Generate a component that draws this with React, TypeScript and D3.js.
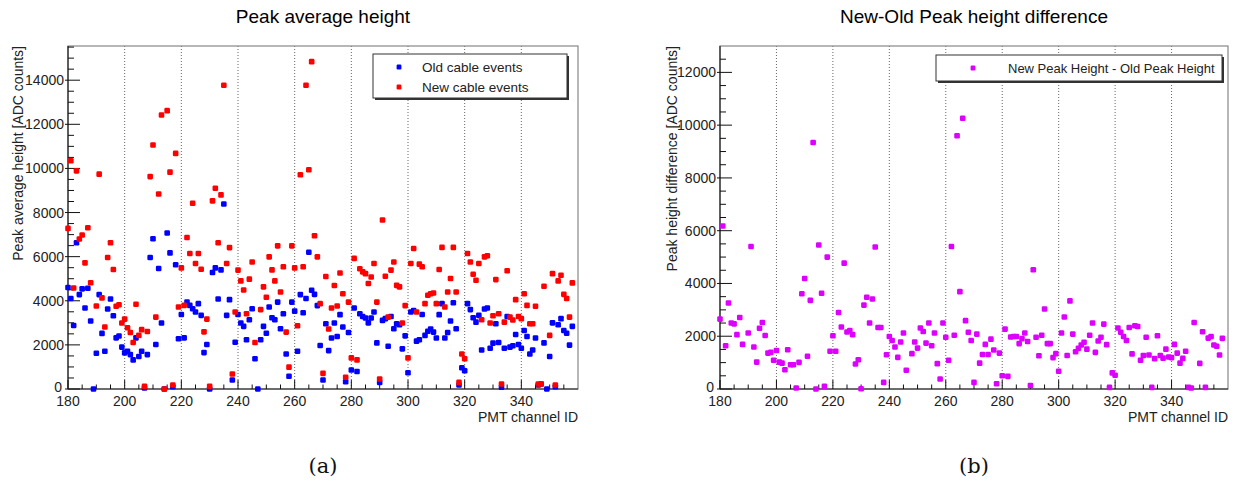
import React, { useEffect, useRef } from "react";
import * as d3 from "d3";

// PMT channel IDs (x) and peak heights in ADC counts
const channels = [
  180, 181, 182, 183, 184, 185, 186, 187, 188, 189, 190, 191, 192, 193, 194, 195, 196, 197, 198, 199,
  200, 201, 202, 203, 204, 205, 206, 207, 208, 209, 210, 211, 212, 213, 214, 215, 216, 217, 218, 219,
  220, 221, 222, 223, 224, 225, 226, 227, 228, 229, 230, 231, 232, 233, 234, 235, 236, 237, 238, 239,
  240, 241, 242, 243, 244, 245, 246, 247, 248, 249, 250, 251, 252, 253, 254, 255, 256, 257, 258, 259,
  260, 261, 262, 263, 264, 265, 266, 267, 268, 269, 270, 271, 272, 273, 274, 275, 276, 277, 278, 279,
  280, 281, 282, 283, 284, 285, 286, 287, 288, 289, 290, 291, 292, 293, 294, 295, 296, 297, 298, 299,
  300, 301, 302, 303, 304, 305, 306, 307, 308, 309, 310, 311, 312, 313, 314, 315, 316, 317, 318, 319,
  320, 321, 322, 323, 324, 325, 326, 327, 328, 329, 330, 331, 332, 333, 334, 335, 336, 337, 338, 339,
  340, 341, 342, 343, 344, 345, 346, 347, 348, 349, 350, 351, 352, 353, 354, 355, 356, 357, 358,
];

const oldCable = [
  4600, 4100, 2880, 6630, 4280, 4540, 3670, 4570, 3080, 0, 1620, 4280, 2520, 1710, 3630, 4080, 3320, 2320, 2400, 1900,
  1640, 1710, 1560, 1320, 2320, 1470, 1710, 45, 1560, 5960, 6810, 2020, 5460, 2990, 0, 7070, 6170, 100, 5630, 2280,
  3380, 2320, 3940, 3790, 3640, 3490, 3870, 3340, 1650, 2020, 0, 5280, 5490, 4080, 5400, 8390, 3340, 4050, 410, 2120,
  3380, 2990, 2840, 2230, 3140, 3640, 1370, 0, 2230, 2840, 2530, 3720, 3230, 3140, 3940, 2730, 3410, 1590, 580, 3940,
  3530, 1710, 4280, 3460, 4100, 6200, 4480, 4290, 3780, 1970, 410, 2960, 1740, 2310, 2990, 2380, 3370, 2810, 330, 2560,
  860, 3670, 790, 3410, 3290, 3220, 3000, 3220, 3490, 2090, 300, 3110, 3190, 1940, 3290, 2730, 2960, 2910, 1820, 2410,
  740, 3490, 3560, 2170, 2230, 3380, 2430, 2620, 2720, 2580, 2310, 3370, 3870, 2310, 2560, 3080, 3910, 2730, 180, 960,
  830, 3870, 3600, 3230, 3030, 3340, 1770, 3630, 3670, 1850, 2080, 2960, 2110, 80, 1850, 3290, 1900, 1960, 2470, 2020,
  1850, 2650, 2380, 1590, 1770, 2310, 180, 230, 2090, 0, 1470, 3000, 100, 2910, 3190, 2650, 2530, 1990, 2840,
];

const newCable = [
  7280, 10350, 4580, 9890, 6800, 6980, 5720, 7310, 4820, null, 3760, 9740, 4130, 2810, 5960, 6630, 5420, 3750, 3820, 2990,
  3170, 2780, 2560, 2110, 3840, 2430, 2690, 120, 2610, 9630, 11060, 3260, 8840, 12420, 0, 12620, 9830, 180, 10680, 3720,
  5490, 3790, 6870, 6140, 8420, 5690, 6140, 5430, 2590, 3170, 120, 8530, 9100, 6630, 8800, 13770, 5690, 6410, 680, 3490,
  5390, 4900, 4490, 3410, 4980, 5760, 2110, null, 3600, 4630, 4160, 5990, 5400, 4900, 6490, 4400, 5540, 2580, 990, 6490,
  5490, 2870, 9710, 5540, 13770, 9940, 14840, 6950, 5990, 3870, 710, 5100, 2720, 3670, 4690, 3760, 5260, 4320, 530, 3940,
  1410, 5920, 1320, 5450, 5310, 5230, 4780, 5080, 5690, 3940, 450, 7660, 5110, 3260, 5390, 5760, 4700, 4630, 2990, 3780,
  1410, 5690, 6370, 3490, 5660, 5540, 3870, 4250, 4320, 4350, 3870, 5420, 6420, 3720, 4400, 5010, 6420, 4400, 300, 1590,
  1370, 6140, 5760, 5200, 4930, 5690, 3140, 5990, 6040, 2990, 3320, 4960, 3410, 230, 3030, 5360, 3260, 3130, 4050, 3290,
  3190, 4320, 3790, 2960, 2960, 3750, 230, 230, 4660, null, 2430, 5230, 180, 4900, 5160, 4290, 4100, 3260, 4810,
];

const peakDiff = [
  2650, 6180, 1640, 3260, 2500, 2470, 2060, 2710, 1690, null, 2120, 5400, 1590, 1020, 2300, 2520, 2030, 1360, 1390, 1090,
  1460, 1020, 980, 730, 1490, 920, 920, 40, 1010, 3610, 4190, 1240, 3360, 9340, 0, 5460, 3630, 100, 5000, 1430,
  2020, 1430, 2900, 2350, 4770, 2160, 2220, 2060, 950, 1110, 10, 3180, 3480, 2500, 3410, 5380, 2330, 2330, 250, 1300,
  1990, 1840, 1590, 1200, 1780, 2120, 710, null, 1340, 1780, 1550, 2310, 2180, 1740, 2500, 1640, 2120, 960, 380, 2500,
  1960, 1090, 5400, 2040, 9600, 3690, 10260, 2590, 2150, 1840, 250, 2080, 980, 1310, 1690, 1310, 1890, 1480, 200, 1360,
  500, 2270, 480, 1970, 1990, 1990, 1720, 1910, 2120, 1800, 130, 4520, 1960, 1260, 2040, 3030, 1720, 1720, 1190, 1340,
  670, 2120, 2730, 1270, 3340, 2080, 1410, 1540, 1670, 1770, 1510, 2040, 2500, 1390, 1820, 1960, 2460, 1680, 60, 610,
  520, 2310, 2150, 1990, 1840, 2330, 1330, 2400, 2370, 1090, 1270, 1960, 1290, 60, 1150, 2020, 1270, 1170, 1510, 1210,
  1190, 1690, 1360, 980, 1160, 1430, 60, 40, 2520, null, 970, 2170, 60, 1930, 1990, 1670, 1620, 1290, 1920,
];

const xTickLabels = [180, 200, 220, 240, 260, 280, 300, 320, 340];
const yTicksLeft = [0, 2000, 4000, 6000, 8000, 10000, 12000, 14000];
const yTicksRight = [0, 2000, 4000, 6000, 8000, 10000, 12000];

const FONT = "'Liberation Sans', Arial, Helvetica, sans-serif";

function drawPanel(svg, p) {
  const x = d3.scaleLinear().domain([180, 360]).range([p.left, p.right]);
  const y = d3.scaleLinear().domain([0, p.yMax]).range([p.bottom, p.top]);
  const g = svg.append("g");

  // title
  g.append("text").attr("x", (p.left + p.right) / 2).attr("y", 23)
    .attr("text-anchor", "middle").attr("font-family", FONT).attr("font-size", 19)
    .text(p.title);

  // dotted vertical grid at major ticks
  g.selectAll(".grid").data(xTickLabels.slice(1)).join("line")
    .attr("x1", d => x(d)).attr("x2", d => x(d))
    .attr("y1", p.top).attr("y2", p.bottom)
    .attr("stroke", "#555").attr("stroke-width", 0.9).attr("stroke-dasharray", "1,2");

  // frame
  g.append("rect").attr("x", p.left).attr("y", p.top)
    .attr("width", p.right - p.left).attr("height", p.bottom - p.top)
    .attr("fill", "none").attr("stroke", "#888").attr("stroke-width", 1.2);
  g.append("line").attr("x1", p.left).attr("x2", p.left).attr("y1", p.top).attr("y2", p.bottom)
    .attr("stroke", "#222").attr("stroke-width", 1.2);
  g.append("line").attr("x1", p.left).attr("x2", p.right).attr("y1", p.bottom).attr("y2", p.bottom)
    .attr("stroke", "#222").attr("stroke-width", 1.2);

  // x ticks
  const xMinor = d3.range(180, 360, 5);
  g.selectAll(".xt").data(xMinor).join("line")
    .attr("x1", d => x(d)).attr("x2", d => x(d))
    .attr("y1", p.bottom).attr("y2", d => p.bottom - (d % 20 === 0 ? 9 : 4.5))
    .attr("stroke", "#111").attr("stroke-width", 1);
  g.selectAll(".xl").data(xTickLabels).join("text")
    .attr("x", d => x(d)).attr("y", p.bottom + 17)
    .attr("text-anchor", "middle").attr("font-family", FONT).attr("font-size", 14).attr("fill", "#222")
    .text(d => d);
  g.append("text").attr("x", p.right).attr("y", p.bottom + 33)
    .attr("text-anchor", "end").attr("font-family", FONT).attr("font-size", 14).attr("fill", "#222")
    .text("PMT channel ID");

  // y ticks
  const yMinor = d3.range(0, p.yMax, 500);
  g.selectAll(".yt").data(yMinor).join("line")
    .attr("y1", d => y(d)).attr("y2", d => y(d))
    .attr("x1", d => (d % 2000 === 0 ? p.left - 3 : p.left))
    .attr("x2", d => p.left + (d % 2000 === 0 ? 12 : 6))
    .attr("stroke", "#111").attr("stroke-width", 1);
  g.selectAll(".yl").data(p.yTicks).join("text")
    .attr("x", d => (d === 0 ? p.left - 6 : p.left - 4))
    .attr("y", d => (d === 0 ? y(d) + 3 : y(d) + 5))
    .attr("text-anchor", "end").attr("font-family", FONT).attr("font-size", 14).attr("fill", "#222")
    .text(d => d);
  g.append("text").attr("transform", `translate(${p.yTitleX},${p.top}) rotate(-90)`)
    .attr("text-anchor", "end").attr("font-family", FONT).attr("font-size", 14).attr("fill", "#222")
    .text(p.yTitle);

  // points
  p.series.forEach(s => {
    const pts = channels.map((c, i) => [c, s.values[i]]).filter(d => d[1] !== null);
    g.selectAll(null).data(pts).join("rect")
      .attr("x", d => x(d[0]) - 2.8).attr("y", d => y(d[1]) - 2.8)
      .attr("width", 5.6).attr("height", 5.6).attr("rx", 1.3)
      .attr("fill", s.color);
  });

  // legend
  const L = p.legend;
  g.append("rect").attr("x", L.x + 2).attr("y", L.y + 2).attr("width", L.w).attr("height", L.h)
    .attr("fill", "#333");
  g.append("rect").attr("x", L.x).attr("y", L.y).attr("width", L.w).attr("height", L.h)
    .attr("fill", "#fff").attr("stroke", "#333").attr("stroke-width", 1);
  p.series.forEach((s, i) => {
    const cy = L.y + L.rowY[i];
    g.append("rect").attr("x", L.markX - 2.4).attr("y", cy - 2.4).attr("width", 4.8).attr("height", 4.8)
      .attr("rx", 1.2).attr("fill", s.color);
    g.append("text").attr("x", L.textX).attr("y", cy + 5)
      .attr("font-family", FONT).attr("font-size", L.fontSize).attr("fill", "#222")
      .text(s.name);
  });

  // sub caption
  g.append("text").attr("x", (p.left + p.right) / 2).attr("y", 473)
    .attr("text-anchor", "middle").attr("font-family", "'DejaVu Serif', 'Liberation Serif', serif")
    .attr("font-size", 21).attr("fill", "#111")
    .text(p.caption);
}

export default function App() {
  const ref = useRef(null);

  useEffect(() => {
    const svg = d3.select(ref.current);
    svg.selectAll("*").remove();

    drawPanel(svg, {
      left: 68, right: 578, top: 46, bottom: 389, yMax: 15550,
      yTicks: yTicksLeft, title: "Peak average height",
      yTitle: "Peak average height [ADC counts]", yTitleX: 23, caption: "(a)",
      series: [
        { name: "Old cable events", values: oldCable, color: "#0000ff" },
        { name: "New cable events", values: newCable, color: "#ff0000" },
      ],
      legend: { x: 373, y: 54, w: 194, h: 44, markX: 399, textX: 422, rowY: [13, 33], fontSize: 13.5 },
    });

    drawPanel(svg, {
      left: 720, right: 1228, top: 46, bottom: 389, yMax: 13000,
      yTicks: yTicksRight, title: "New-Old Peak height difference",
      yTitle: "Peak height difference [ADC counts]", yTitleX: 677, caption: "(b)",
      series: [
        { name: "New Peak Height - Old Peak Height", values: peakDiff, color: "#dd00ff" },
      ],
      legend: { x: 936, y: 55, w: 286, h: 26, markX: 973, textX: 1008, rowY: [13], fontSize: 13 },
    });
  }, []);

  return (
    <svg ref={ref} width={1235} height={486}
      style={{ position: "absolute", left: 0, top: 0, background: "#fff" }} />
  );
}
